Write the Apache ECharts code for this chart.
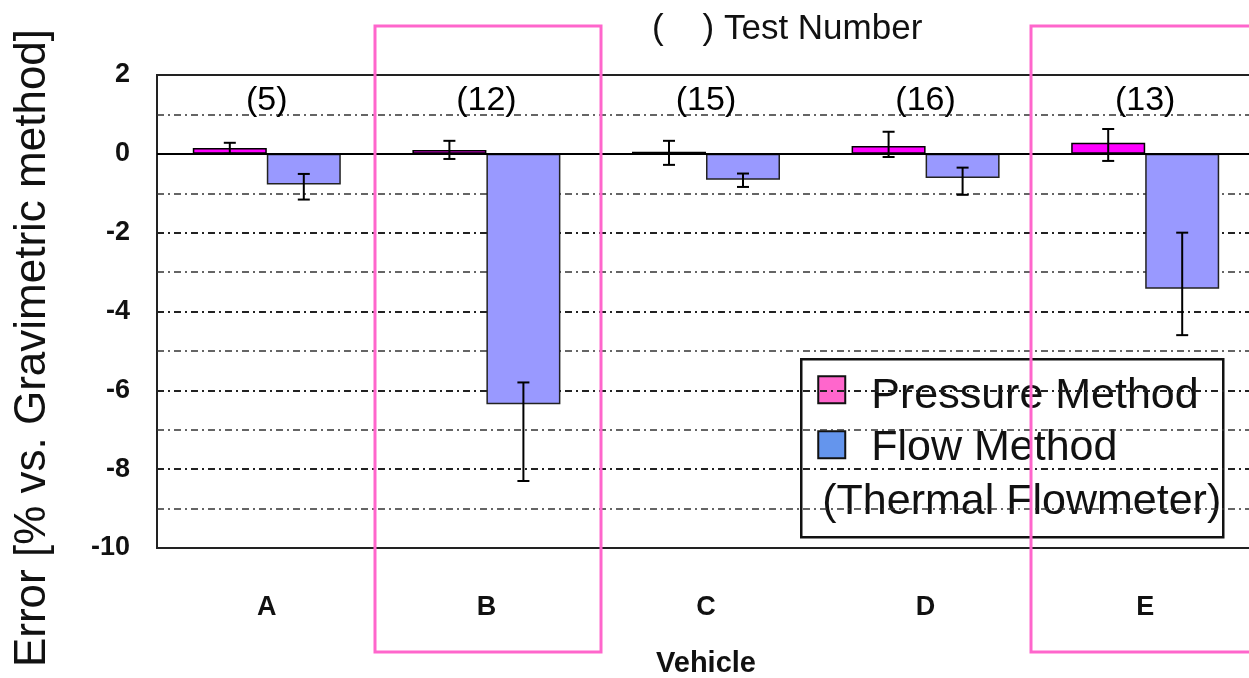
<!DOCTYPE html>
<html>
<head>
<meta charset="utf-8">
<script src="https://cdn.jsdelivr.net/npm/echarts@6/dist/echarts.min.js"></script>
<style>
html, body { margin: 0; padding: 0; background: #fff; }
#main { width: 1249px; height: 678px; }
</style>
</head>
<body>
<div id="main"></div>
<script>
// vehicles and test counts
var vehicles = ['A', 'B', 'C', 'D', 'E'];
var testNumbers = ['(5)', '(12)', '(15)', '(16)', '(13)'];

// pressure method error [%]
var pressure = [0.15, 0.1, 0.05, 0.2, 0.28];
var pressureHigh = [0.28, 0.33, 0.33, 0.56, 0.63];
var pressureLow = [0.0, -0.13, -0.28, -0.08, -0.18];

// flow method (thermal flowmeter) error [%]
var flow = [-0.78, -6.35, -0.66, -0.61, -3.42];
var flowHigh = [-0.51, -5.8, -0.5, -0.35, -2.0];
var flowLow = [-1.16, -8.3, -0.84, -1.04, -4.6];

var BAR_W = 74;
var FONT = 'Liberation Sans, Arial, sans-serif';

var myChart = echarts.init(document.getElementById('main'));

// error bar data: [category, low, high]
function errData(lo, hi) {
	var out = [];
	for (var i = 0; i < lo.length; i++) {
		out.push([i, lo[i], hi[i]]);
	}
	return out;
}

function errRender(offset) {
	return function(params, api) {
		var i = api.value(0);
		var p1 = api.coord([i, api.value(1)]);
		var p2 = api.coord([i, api.value(2)]);
		var x = p1[0] + offset;
		var cap = 6;
		var style = { stroke: '#000', lineWidth: 2 };
		return {
			type: 'group',
			children: [
				{ type: 'line', shape: { x1: x, y1: p1[1], x2: x, y2: p2[1] }, style: style },
				{ type: 'line', shape: { x1: x - cap, y1: p1[1], x2: x + cap, y2: p1[1] }, style: style },
				{ type: 'line', shape: { x1: x - cap, y1: p2[1], x2: x + cap, y2: p2[1] }, style: style }
			]
		};
	};
}

var labelData = [];
for (var i = 0; i < testNumbers.length; i++) {
	labelData.push([i, 1.35, testNumbers[i]]);
}

var option = {
	animation: false,
	backgroundColor: '#fff',
	grid: {
		left: 157,
		top: 75,
		width: 1098,
		height: 473,
		outerBoundsMode: 'none',
		containLabel: false,
		show: true,
		borderColor: '#222',
		borderWidth: 2
	},
	xAxis: {
		type: 'category',
		data: vehicles,
		axisLine: { show: false },
		axisTick: { show: false },
		axisLabel: {
			margin: 46,
			fontSize: 27,
			fontWeight: 'bold',
			color: '#111',
			fontFamily: FONT
		},
		name: 'Vehicle',
		nameLocation: 'middle',
		nameGap: 101,
		nameTextStyle: {
			fontSize: 29,
			fontWeight: 'bold',
			color: '#111',
			fontFamily: FONT
		}
	},
	yAxis: {
		type: 'value',
		min: -10,
		max: 2,
		interval: 2,
		axisLine: { show: false },
		axisTick: { show: false },
		axisLabel: {
			margin: 27,
			fontSize: 27,
			fontWeight: 'bold',
			color: '#111',
			fontFamily: FONT
		},
		splitLine: {
			show: true,
			lineStyle: { color: '#222', type: [7, 4, 2, 4], width: 1.8 }
		},
		minorTick: { show: false, splitNumber: 2 },
		minorSplitLine: {
			show: true,
			lineStyle: { color: '#333', type: [7, 4, 2, 4], width: 1.6 }
		}
	},
	series: [
		{
			name: 'Pressure Method',
			type: 'bar',
			data: pressure,
			barWidth: BAR_W,
			barGap: '0%',
			itemStyle: { color: '#ff00ff', borderColor: '#000', borderWidth: 1.5 },
			markLine: {
				silent: true,
				symbol: 'none',
				label: { show: false },
				lineStyle: { color: '#000', type: 'solid', width: 1.8 },
				data: [{ yAxis: 0 }]
			}
		},
		{
			name: 'Flow Method',
			type: 'bar',
			data: flow,
			barWidth: BAR_W,
			barGap: '0%',
			itemStyle: { color: '#9999ff', borderColor: '#222', borderWidth: 1.5 }
		},
		{
			type: 'custom',
			renderItem: errRender(-BAR_W / 2),
			data: errData(pressureLow, pressureHigh),
			encode: { x: 0, y: [1, 2] },
			z: 5
		},
		{
			type: 'custom',
			renderItem: errRender(BAR_W / 2),
			data: errData(flowLow, flowHigh),
			encode: { x: 0, y: [1, 2] },
			z: 5
		},
		{
			type: 'scatter',
			data: labelData,
			symbolSize: 0,
			silent: true,
			itemStyle: { opacity: 1 },
			label: {
				show: true,
				position: 'inside',
				formatter: function(p) { return p.value[2]; },
				fontSize: 34,
				color: '#000',
				opacity: 1,
				fontFamily: FONT
			}
		}
	],
	graphic: [
		{
			// y axis title, centred lower than the plot like the original
			type: 'text',
			x: 33,
			y: 348,
			rotation: Math.PI / 2,
			style: {
				text: 'Error [% vs. Gravimetric method]',
				fontSize: 44,
				fill: '#111',
				fontFamily: FONT,
				align: 'center',
				verticalAlign: 'middle'
			}
		},
		{
			type: 'text',
			left: 652,
			top: 12,
			style: {
				text: '(    ) Test Number',
				fontSize: 35,
				fill: '#111',
				fontFamily: FONT
			}
		},
		{
			type: 'group',
			left: 800,
			top: 358,
			z: 20,
			children: [
				{
					type: 'rect',
					shape: { x: 0, y: 0, width: 422, height: 178 },
					style: { fill: '#fff', stroke: '#111', lineWidth: 2.5 }
				},
				{
					type: 'rect',
					shape: { x: 17, y: 17, width: 27, height: 27 },
					style: { fill: '#ff66cc', stroke: '#111', lineWidth: 2 }
				},
				{
					type: 'text',
					x: 70, y: 37,
					style: { text: 'Pressure Method', fontSize: 43, fill: '#111', fontFamily: FONT, verticalAlign: 'middle' }
				},
				{
					type: 'rect',
					shape: { x: 17, y: 72, width: 27, height: 27 },
					style: { fill: '#6495ed', stroke: '#111', lineWidth: 2 }
				},
				{
					type: 'text',
					x: 70, y: 89,
					style: { text: 'Flow Method', fontSize: 43, fill: '#111', fontFamily: FONT, verticalAlign: 'middle' }
				},
				{
					type: 'text',
					x: 21, y: 143,
					style: { text: '(Thermal Flowmeter)', fontSize: 43, fill: '#111', fontFamily: FONT, verticalAlign: 'middle' }
				}
			]
		},
		{
			type: 'rect',
			z: 30,
			shape: { x: 375, y: 26, width: 226, height: 626 },
			style: { fill: 'none', stroke: '#ff66cc', lineWidth: 3 }
		},
		{
			type: 'rect',
			z: 30,
			shape: { x: 1031, y: 26, width: 240, height: 626 },
			style: { fill: 'none', stroke: '#ff66cc', lineWidth: 3 }
		}
	]
};

myChart.setOption(option);
</script>
</body>
</html>
